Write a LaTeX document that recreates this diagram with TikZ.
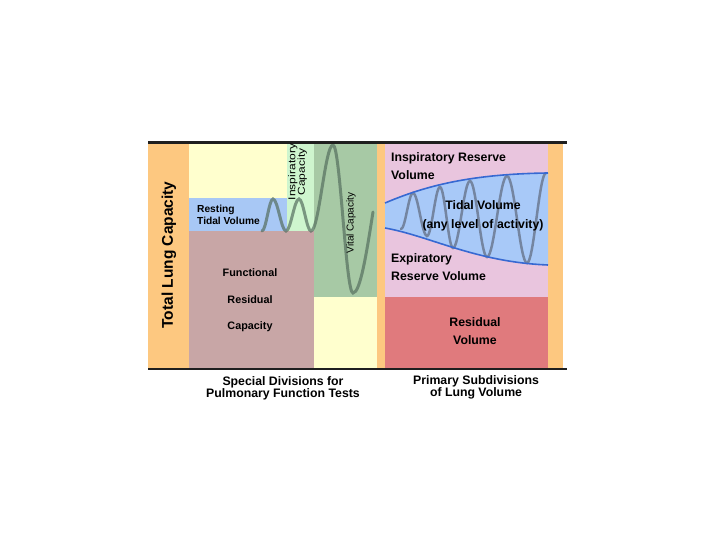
\documentclass[tikz,border=0pt]{standalone}
\usepackage{fontspec}
\setmainfont{Liberation Sans}
\newcommand{\myfs}[2]{\fontsize{#1}{#2}\selectfont}
\definecolor{orng}{RGB}{253,200,128}
\definecolor{lyel}{RGB}{255,255,206}
\definecolor{rblue}{RGB}{168,200,245}
\definecolor{lgrn}{RGB}{206,245,206}
\definecolor{mauv}{RGB}{200,166,166}
\definecolor{vgrn}{RGB}{167,201,165}
\definecolor{pnk}{RGB}{233,197,222}
\definecolor{rvred}{RGB}{224,122,125}
\definecolor{tblue}{RGB}{168,201,248}
\definecolor{bline}{RGB}{55,105,210}
\definecolor{wavel}{RGB}{85,110,95}
\definecolor{waver}{RGB}{95,105,125}
\begin{document}
\begin{tikzpicture}[x=1pt,y=-1pt,
  lbl/.style={inner sep=0pt},
  boldlbl/.style={inner sep=0pt, font=\bfseries},
  wavestyle/.style={line width=3pt, draw=wavel, draw opacity=0.7, line cap=round},
  wavestyler/.style={line width=2.5pt, draw=waver, draw opacity=0.7, line cap=round},
  bound/.style={line width=1.6pt, draw=bline},
  rule/.style={line width=2.4pt, draw=black!88}]
\useasboundingbox (0,0) rectangle (720,540);
\fill[white] (0,0) rectangle (720,540);
% regions
\fill[orng] (148,143) rectangle (189,369);
\fill[lyel] (189,143) rectangle (287,198);
\fill[rblue] (189,198) rectangle (287,231);
\fill[lgrn] (287,143) rectangle (314,231);
\fill[mauv] (189,231) rectangle (314,369);
\fill[vgrn] (314,143) rectangle (377,297);
\fill[lyel] (314,297) rectangle (377,369);
\fill[orng] (377,143) rectangle (385,369);
\fill[pnk] (385,143) rectangle (548,297);
\fill[rvred] (385,297) rectangle (548,369);
\fill[orng] (548,143) rectangle (563,369);
% tidal band
\fill[tblue] (385,203) .. controls (425,186) and (470,174) .. (548,173)
  -- (548,265) .. controls (475,262) and (430,236) .. (385,228) -- cycle;
% waves
\draw[wavestyle] (262,231) cos (267.5,215) sin (273,199) cos (279.5,215) sin (286,231)
  cos (292.5,215) sin (299,199) cos (305,215) sin (311,231)
  cos (322,188) sin (333,145) cos (343,219) sin (353,293) cos (373,212);
\draw[wavestyler] (401,229) cos (407,211) sin (413,193) cos (420,214.5) sin (427,236)
  cos (433.5,211.5) sin (440,187) cos (446.5,217.5) sin (453,248)
  cos (461.5,214.5) sin (470,181) cos (478.5,219) sin (487,257)
  cos (497,216.5) sin (507,176) cos (517,219) sin (527,263)
  cos (536.5,218) sin (546,173);
\draw[bound] (385,203) .. controls (425,186) and (470,174) .. (548,173);
\draw[bound] (385,228) .. controls (430,236) and (475,262) .. (548,265);
% rules
\draw[rule] (148,142.5) -- (567,142.5);
\draw[rule] (148,369) -- (567,369);
% texts
\node[boldlbl, rotate=90, font=\bfseries\myfs{15.5}{18}] (tlc) at (169,255) {Total Lung Capacity};
\node[boldlbl, anchor=west, align=left, font=\bfseries\myfs{10.2}{12}] (rtv) at (197,215) {Resting\\Tidal Volume};
\node[lbl, rotate=90, align=center, font=\myfs{10}{9.5}] (ic) at (297.5,172) {\scalebox{1.2}[1]{Inspiratory}\\\scalebox{1.2}[1]{Capacity}};
\node[lbl, rotate=90, font=\myfs{10}{12}] (vc) at (351,223) {Vital Capacity};
\node[boldlbl, align=center, font=\bfseries\myfs{10.8}{26.5}] (frc) at (250,300.5) {Functional\\Residual\\Capacity};
\node[boldlbl, anchor=west, align=left, font=\bfseries\myfs{12.3}{18}] (irv) at (391,166) {Inspiratory Reserve\\Volume};
\node[boldlbl, align=center, font=\bfseries\myfs{12.3}{19}] (tv) at (483,215.5) {Tidal Volume\\(any level of activity)};
\node[boldlbl, anchor=west, align=left, font=\bfseries\myfs{12.3}{18}] (erv) at (391,267) {Expiratory\\Reserve Volume};
\node[boldlbl, align=center, font=\bfseries\myfs{12.3}{18}] (rv) at (475,331) {Residual\\Volume};
\node[boldlbl, align=center, font=\bfseries\myfs{12.3}{11.8}] (sd) at (283,388.5) {Special Divisions for\\Pulmonary Function Tests};
\node[boldlbl, align=center, font=\bfseries\myfs{12.3}{11.8}] (ps) at (476,387) {Primary Subdivisions\\of Lung Volume};
\end{tikzpicture}
\end{document}
